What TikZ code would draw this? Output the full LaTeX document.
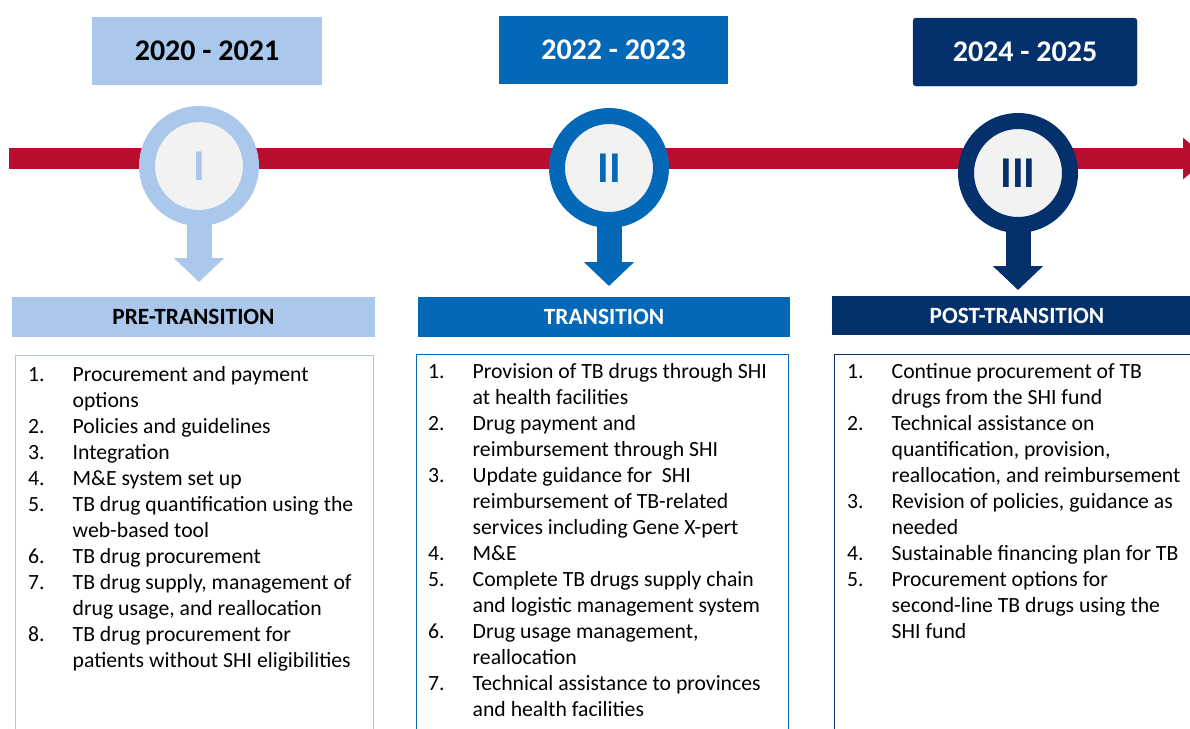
\documentclass[tikz,border=0pt]{standalone}
\usepackage{fontspec}
\setmainfont{Carlito}
\usepackage{tikz}
\usetikzlibrary{arrows.meta}
\definecolor{tlRed}{HTML}{B80D2F}
\definecolor{pLight}{HTML}{A9C8EC}
\definecolor{pMid}{HTML}{0468B8}
\definecolor{pDark}{HTML}{04306B}
\definecolor{ringFill}{HTML}{F2F2F2}
\tikzset{yr/.style={rectangle, inner sep=0pt, minimum height=68,
  font=\fontsize{30}{35}\selectfont\bfseries}}
\tikzset{ph/.style={rectangle, inner sep=0pt, minimum height=40,
  font=\fontsize{23.3}{28}\selectfont\bfseries}}
\tikzset{rg/.style={circle, line width=16, fill=ringFill, inner sep=0pt,
  minimum size=104, font=\fontsize{44}{50}\selectfont\bfseries}}
\tikzset{dn/.style={line width=25, -{Triangle[length=24pt,width=49pt]}}}
\tikzset{lst/.style={anchor=north west, inner sep=0pt, align=left,
  font=\fontsize{21.7}{26}\selectfont}}
\tikzset{frm/.style={draw, line width=1}}

\begin{document}
\begin{tikzpicture}[x=1pt,y=-1pt]
        \useasboundingbox (0,0) rectangle (1190,728);
        \clip (0,0) rectangle (1190,728);
        %% timeline
        \draw [tlRed, line width=21, -{Triangle[length=25pt,width=40pt]}]
            (9,158.5) -- (1208,158.5);
        %% years
        \node (y1) at (207,51) [yr, fill=pLight, minimum width=230] {2020 - 2021};
        \node (y2) at (613.5,50) [yr, fill=pMid, text=white, minimum width=229] {2022 - 2023};
        \node (y3) at (1025,52) [yr, fill=pDark, draw=pDark!75!pMid, rounded corners=3,
            text=white, minimum width=224] {2024 - 2025};
        %% markers
        \coordinate (o1) at (199,166);
        \coordinate (o2) at (609,168);
        \coordinate (o3) at (1018,173);
        \coordinate (t1) at (199,282);
        \coordinate (t2) at (609,286);
        \coordinate (t3) at (1018,290);
        \draw [dn, pLight] (o1) -- (t1);
        \draw [dn, pMid] (o2) -- (t2);
        \draw [dn, pDark] (o3) -- (t3);
        \node (c1) at (o1) [rg, draw=pLight, text=pLight] {I};
        \node (c2) at (o2) [rg, draw=pMid, text=pMid] {II};
        \node (c3) at (o3) [rg, draw=pDark, text=pDark] {III};
        %% phases
        \node (h1) at (193.5,317) [ph, fill=pLight, minimum width=363] {PRE-TRANSITION};
        \node (h2) at (604,317) [ph, fill=pMid, text=white, minimum width=372] {TRANSITION};
        \node (h3) at (1017,315.5) [ph, fill=pDark, text=white, minimum width=370,
            minimum height=39] {POST-TRANSITION};
        %% lists
        \draw [frm, pLight] (15,740) |- (373,355) -- (373,740);
        \draw [frm, pMid] (416,740) |- (788,354) -- (788,740);
        \draw [frm, pDark] (834,740) |- (1200,354);
        \node (l1) at (28,363.5) [lst] {\begin{tabular}{@{}p{44.5pt}@{}l@{}}
            1. & Procurement and payment\\
               & options\\
            2. & Policies and guidelines\\
            3. & Integration\\
            4. & M\&E system set up\\
            5. & TB drug quantification using the\\
               & web-based tool\\
            6. & TB drug procurement\\
            7. & TB drug supply, management of\\
               & drug usage, and reallocation\\
            8. & TB drug procurement for\\
               & patients without SHI eligibilities
            \end{tabular}};
        \node (l2) at (428,360.5) [lst] {\begin{tabular}{@{}p{44.5pt}@{}l@{}}
            1. & Provision of TB drugs through SHI\\
               & at health facilities\\
            2. & Drug payment and\\
               & reimbursement through SHI\\
            3. & Update guidance for~ SHI\\
               & reimbursement of TB-related\\
               & services including Gene X-pert\\
            4. & M\&E\\
            5. & Complete TB drugs supply chain\\
               & and logistic management system\\
            6. & Drug usage management,\\
               & reallocation\\
            7. & Technical assistance to provinces\\
               & and health facilities
            \end{tabular}};
        \node (l3) at (847,360.5) [lst] {\begin{tabular}{@{}p{44.5pt}@{}l@{}}
            1. & Continue procurement of TB\\
               & drugs from the SHI fund\\
            2. & Technical assistance on\\
               & quantification, provision,\\
               & reallocation, and reimbursement\\
            3. & Revision of policies, guidance as\\
               & needed\\
            4. & Sustainable financing plan for TB\\
            5. & Procurement options for\\
               & second-line TB drugs using the\\
               & SHI fund
            \end{tabular}};
    \end{tikzpicture}
\end{document}
